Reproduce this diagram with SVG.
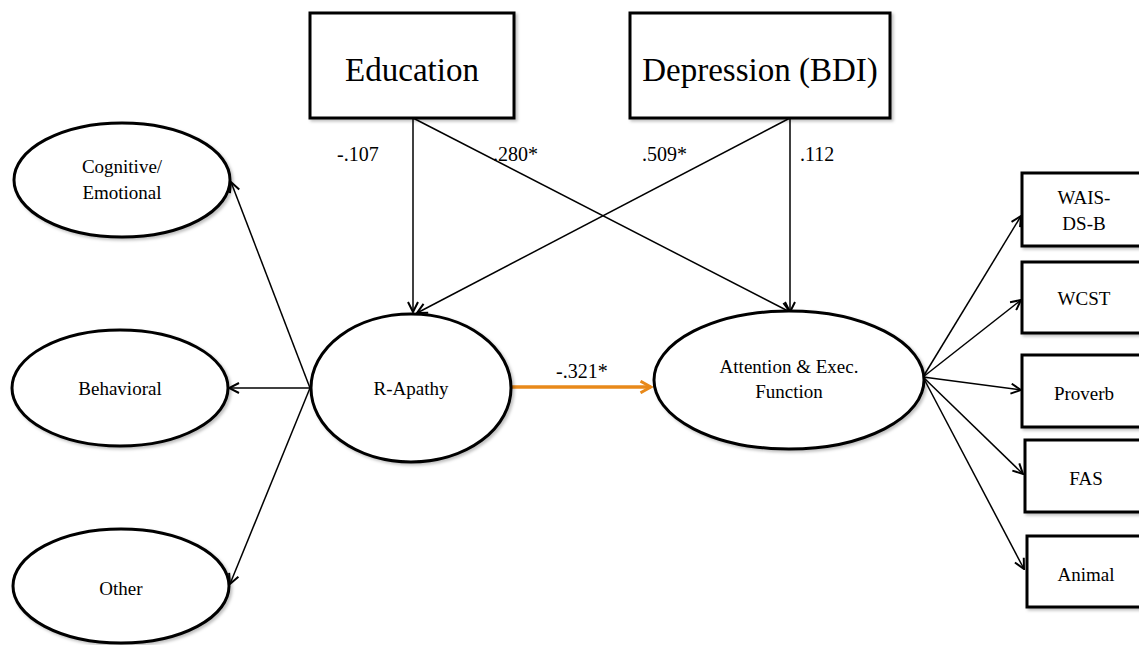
<svg xmlns="http://www.w3.org/2000/svg" width="1139" height="645" viewBox="0 0 1139 645" font-family="'Liberation Serif', 'DejaVu Serif', serif">
<defs>
<marker id="ah" viewBox="0 0 12 12" refX="11" refY="6" markerWidth="12" markerHeight="12" markerUnits="userSpaceOnUse" orient="auto">
<path d="M1,1 L11,6 L1,11" fill="none" stroke="#000" stroke-width="2"/>
</marker>
<marker id="aho" viewBox="0 0 12 12" refX="10" refY="6" markerWidth="14" markerHeight="14" markerUnits="userSpaceOnUse" orient="auto">
<path d="M1,1 L10,6 L1,11" fill="none" stroke="#E8891A" stroke-width="2.5"/>
</marker>
<filter id="sh" x="-10%" y="-10%" width="130%" height="130%">
<feDropShadow dx="2" dy="2" stdDeviation="1.5" flood-color="#000" flood-opacity="0.25"/>
</filter>
</defs>
<style>
.shape{fill:#fff;stroke:#000;stroke-width:3;filter:url(#sh)}
text{font-family:'Liberation Serif','DejaVu Serif',serif;fill:#000}
.t{text-anchor:middle}
.big{font-size:33px}
.mid{font-size:19px}
.lbl{font-size:20px}
.c{fill:none;stroke:#000;stroke-width:1.5;marker-end:url(#ah)}
</style>
<rect width="1139" height="645" fill="#fff"/>

<g id="connectors">
<line class="c" x1="413" y1="118" x2="413" y2="312"/>
<line class="c" x1="413" y1="118" x2="790" y2="312"/>
<line class="c" x1="790" y1="118" x2="790" y2="312"/>
<line class="c" x1="790" y1="118" x2="417" y2="313"/>
<line class="c" x1="310" y1="388" x2="231" y2="182"/>
<line class="c" x1="310" y1="388" x2="229" y2="388"/>
<line class="c" x1="310" y1="388" x2="230" y2="584"/>
<line class="c" x1="923" y1="377" x2="1021" y2="216"/>
<line class="c" x1="923" y1="377" x2="1021" y2="300"/>
<line class="c" x1="923" y1="377" x2="1021" y2="390"/>
<line class="c" x1="923" y1="377" x2="1023" y2="474"/>
<line class="c" x1="923" y1="377" x2="1024" y2="569"/>
<line x1="512" y1="387" x2="651" y2="387" stroke="#E8891A" stroke-width="3.5" marker-end="url(#aho)"/>
<text class="lbl" x="337" y="161" font-family="'Liberation Serif', serif">-.107</text>
<text class="lbl" x="493" y="161" font-family="'Liberation Serif', serif">.280*</text>
<text class="lbl" x="642" y="161" font-family="'Liberation Serif', serif">.509*</text>
<text class="lbl" x="800" y="161" font-family="'Liberation Serif', serif">.112</text>
<text class="lbl" x="556" y="378" font-family="'Liberation Serif', serif">-.321*</text>
</g>

<g id="education">
<rect class="shape" x="310" y="13" width="204" height="105"/>
<text class="t big" x="412" y="81" font-family="'Liberation Serif', serif">Education</text>
</g>
<g id="depression">
<rect class="shape" x="630" y="13" width="260" height="105"/>
<text class="t big" x="760" y="81" font-family="'Liberation Serif', serif">Depression (BDI)</text>
</g>

<g id="cognitive">
<ellipse class="shape" cx="122" cy="180" rx="108" ry="57"/>
<text class="t mid" x="122" y="173" font-family="'Liberation Serif', serif">Cognitive/</text>
<text class="t mid" x="122" y="199" font-family="'Liberation Serif', serif">Emotional</text>
</g>
<g id="behavioral">
<ellipse class="shape" cx="120" cy="388" rx="108" ry="58"/>
<text class="t mid" x="120" y="395" font-family="'Liberation Serif', serif">Behavioral</text>
</g>
<g id="other">
<ellipse class="shape" cx="121" cy="586" rx="108" ry="57"/>
<text class="t mid" x="121" y="595" font-family="'Liberation Serif', serif">Other</text>
</g>

<g id="rapathy">
<ellipse class="shape" cx="411" cy="388" rx="100" ry="74"/>
<text class="t mid" x="411" y="395" font-family="'Liberation Serif', serif">R-Apathy</text>
</g>
<g id="attention">
<ellipse class="shape" cx="789" cy="380" rx="135" ry="69"/>
<text class="t mid" x="789" y="373" font-family="'Liberation Serif', serif">Attention &amp; Exec.</text>
<text class="t mid" x="789" y="398" font-family="'Liberation Serif', serif">Function</text>
</g>

<g id="wais">
<rect class="shape" x="1022" y="173" width="125" height="73"/>
<text class="t mid" x="1084" y="204" font-family="'Liberation Serif', serif">WAIS-</text>
<text class="t mid" x="1084" y="230" font-family="'Liberation Serif', serif">DS-B</text>
</g>
<g id="wcst">
<rect class="shape" x="1022" y="262" width="125" height="71"/>
<text class="t mid" x="1084" y="305" font-family="'Liberation Serif', serif">WCST</text>
</g>
<g id="proverb">
<rect class="shape" x="1022" y="355" width="125" height="72"/>
<text class="t mid" x="1084" y="400" font-family="'Liberation Serif', serif">Proverb</text>
</g>
<g id="fas">
<rect class="shape" x="1025" y="440" width="125" height="72"/>
<text class="t mid" x="1086" y="485" font-family="'Liberation Serif', serif">FAS</text>
</g>
<g id="animal">
<rect class="shape" x="1027" y="536" width="125" height="71"/>
<text class="t mid" x="1086" y="581" font-family="'Liberation Serif', serif">Animal</text>
</g>
</svg>
